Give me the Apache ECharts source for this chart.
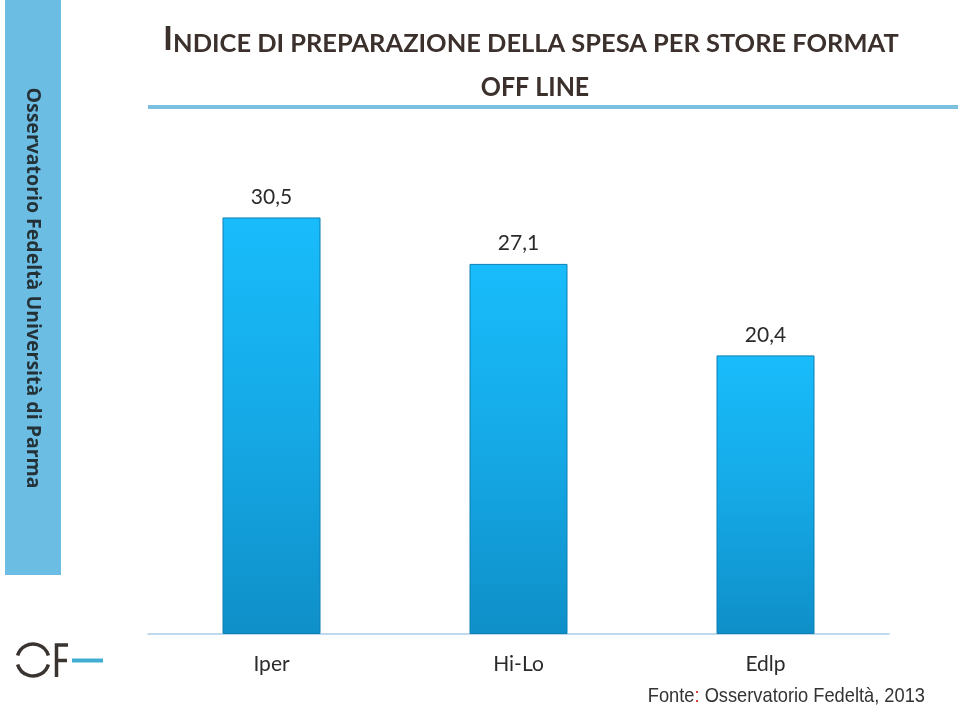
<!DOCTYPE html>
<html>
<head>
<meta charset="utf-8">
<script src="https://cdn.jsdelivr.net/npm/echarts@6/dist/echarts.min.js"></script>
<style>
html, body { margin: 0; padding: 0; background: #fff; }
#chart { width: 960px; height: 706px; }
</style>
</head>
<body>
<div id="chart"></div>
<script>
// dati del grafico
var categories = ['Iper', 'Hi-Lo', 'Edlp'];
var values = [30.5, 27.1, 20.4];
var yMax = 35;

(function () {
	let myCharts = echarts.init(document.getElementById('chart'));
	let dark = '#3b302c';
	let logoGray = '#3a3431';

	let option = {
		backgroundColor: '#fff',
		animation: false,
		grid: {
			left: 148,
			width: 741,
			top: 156,
			bottom: 72
		},
		xAxis: {
			type: 'category',
			data: categories,
			axisTick: { show: false },
			axisLine: {
				lineStyle: { color: '#a9cde6', width: 1.5 }
			},
			axisLabel: {
				color: '#2b2b2b',
				fontFamily: 'Lato',
				fontSize: 21,
				margin: 20
			}
		},
		yAxis: {
			type: 'value',
			min: 0,
			max: yMax,
			show: false,
			splitLine: { show: false }
		},
		series: [{
			type: 'bar',
			data: values,
			barWidth: 98,
			itemStyle: {
				color: new echarts.graphic.LinearGradient(0, 0, 0, 1, [
					{ offset: 0, color: '#19bcfb' },
					{ offset: 0.5, color: '#15a9e6' },
					{ offset: 1, color: '#0f8fc8' }
				]),
				borderColor: '#0d7fb4',
				borderWidth: 1
			},
			label: {
				show: true,
				position: 'top',
				distance: 10,
				color: '#2b2b2b',
				fontFamily: 'Lato',
				fontSize: 21,
				formatter: function (p) {
					return String(p.value).replace('.', ',');
				}
			}
		}],
		graphic: [
			// barra laterale
			{
				type: 'rect',
				left: 5, top: 0,
				shape: { width: 56, height: 575 },
				style: { fill: '#6cbde4' }
			},
			{
				type: 'text',
				x: 33, y: 288,
				rotation: -Math.PI / 2,
				style: {
					text: 'Osservatorio Fedeltà Università di Parma',
					fill: '#243238',
					font: 'bold 19.5px "Open Sans"',
					align: 'center',
					verticalAlign: 'middle'
				}
			},
			// titolo
			{
				type: 'text',
				x: 163, y: 56,
				scaleX: 1.06,
				style: {
					text: '{a|I}{b|NDICE DI PREPARAZIONE DELLA SPESA PER STORE FORMAT}',
					verticalAlign: 'bottom',
					rich: {
						a: { font: 'bold 32px Lato', fill: dark, verticalAlign: 'bottom' },
						b: { font: 'bold 24px Lato', fill: dark, verticalAlign: 'bottom' }
					}
				}
			},
			{
				type: 'text',
				x: 535, y: 101,
				scaleX: 0.96,
				style: {
					text: 'OFF LINE',
					font: 'bold 26px Lato',
					fill: dark,
					align: 'center',
					verticalAlign: 'bottom'
				}
			},
			{
				type: 'rect',
				left: 148, top: 105,
				shape: { width: 810, height: 4 },
				style: { fill: '#7bc0de' }
			},
			// logo OF-
			{
				type: 'arc',
				shape: { cx: 33, cy: 660, r: 16, startAngle: Math.PI + 0.28, endAngle: 2 * Math.PI - 0.28 },
				style: { stroke: logoGray, lineWidth: 3.5, fill: null }
			},
			{
				type: 'arc',
				shape: { cx: 33, cy: 660, r: 16, startAngle: 0.28, endAngle: Math.PI - 0.28 },
				style: { stroke: logoGray, lineWidth: 3.5, fill: null }
			},
			{
				type: 'polyline',
				shape: { points: [[68, 645], [56.5, 645], [56.5, 677]] },
				style: { stroke: logoGray, lineWidth: 3.5, fill: null }
			},
			{
				type: 'line',
				shape: { x1: 56.5, y1: 660.5, x2: 67, y2: 660.5 },
				style: { stroke: logoGray, lineWidth: 3.5 }
			},
			{
				type: 'rect',
				left: 72, top: 658.5,
				shape: { width: 31, height: 4 },
				style: { fill: '#40aed3' }
			},
			// fonte
			{
				type: 'text',
				x: 925, y: 707,
				scaleX: 0.87,
				style: {
					text: 'Fonte{r|:} Osservatorio Fedeltà, 2013',
					font: '21px "Liberation Sans"',
					fill: '#333',
					align: 'right',
					verticalAlign: 'bottom',
					rich: {
						r: { font: '21px "Liberation Sans"', fill: '#d4252a' }
					}
				}
			}
		]
	};

	myCharts.setOption(option);
})();
</script>
</body>
</html>
